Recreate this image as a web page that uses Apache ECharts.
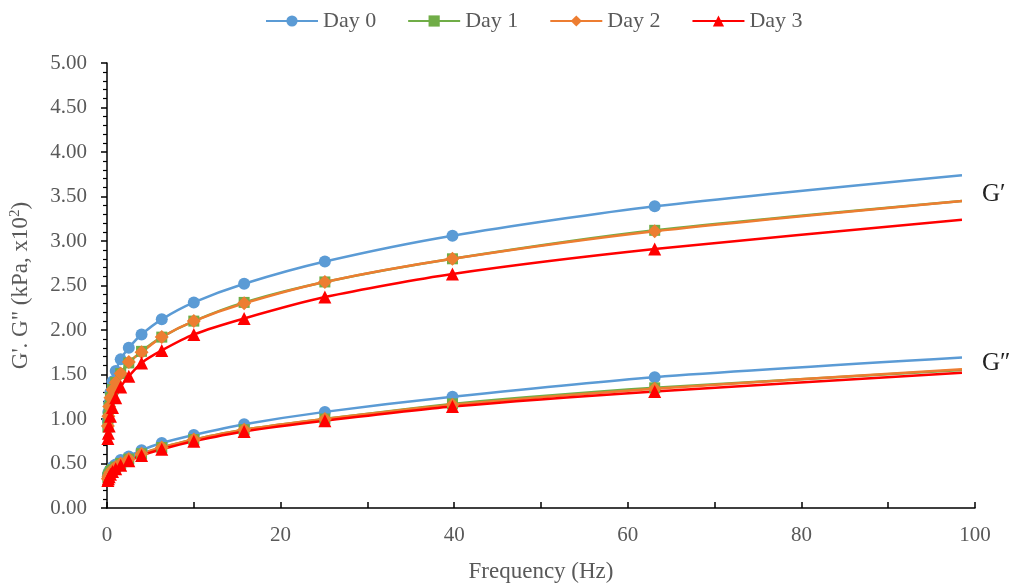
<!DOCTYPE html>
<html>
<head>
<meta charset="utf-8">
<script src="https://cdn.jsdelivr.net/npm/echarts@6/dist/echarts.min.js"></script>
<style>
  html, body { margin: 0; padding: 0; background: #fff; }
  #chart { width: 1014px; height: 588px; }
</style>
</head>
<body>
<div id="chart"></div>
<script>
// frequency (Hz); last entry is the curve end, drawn without a marker
const freq = [0.1, 0.158, 0.251, 0.398, 0.631, 1, 1.58, 2.51, 3.98, 6.31, 10, 15.8, 25.1, 39.8, 63.1, 98.5]

// G' (storage modulus)
const day0G1 = [0.98, 1.08, 1.18, 1.30, 1.42, 1.54, 1.67, 1.80, 1.95, 2.12, 2.31, 2.52, 2.77, 3.06, 3.39, 3.74]
const day1G1 = [0.91, 1.02, 1.13, 1.24, 1.33, 1.41, 1.51, 1.63, 1.76, 1.92, 2.10, 2.31, 2.54, 2.80, 3.12, 3.45]
const day2G1 = [0.92, 1.03, 1.14, 1.24, 1.33, 1.41, 1.51, 1.64, 1.75, 1.92, 2.10, 2.30, 2.54, 2.80, 3.11, 3.45]
const day3G1 = [0.78, 0.84, 0.92, 1.03, 1.13, 1.24, 1.36, 1.48, 1.63, 1.77, 1.95, 2.13, 2.37, 2.63, 2.91, 3.24]

// G'' (loss modulus)
const day0G2 = [0.37, 0.39, 0.41, 0.43, 0.46, 0.49, 0.54, 0.58, 0.65, 0.73, 0.82, 0.94, 1.08, 1.25, 1.47, 1.69]
const day1G2 = [0.34, 0.36, 0.38, 0.41, 0.43, 0.46, 0.50, 0.55, 0.61, 0.68, 0.77, 0.88, 1.00, 1.17, 1.35, 1.55]
const day2G2 = [0.33, 0.35, 0.37, 0.40, 0.43, 0.46, 0.50, 0.55, 0.61, 0.68, 0.77, 0.88, 1.00, 1.16, 1.34, 1.56]
const day3G2 = [0.31, 0.33, 0.35, 0.38, 0.41, 0.44, 0.48, 0.53, 0.59, 0.66, 0.75, 0.86, 0.98, 1.14, 1.31, 1.52]

const days = [
  { name: 'Day 0', color: '#5B9BD5', symbol: 'circle', size: 12, g1: day0G1, g2: day0G2 },
  { name: 'Day 1', color: '#70AD47', symbol: 'rect', size: 11, g1: day1G1, g2: day1G2 },
  { name: 'Day 2', color: '#ED7D31', symbol: 'diamond', size: 14, g1: day2G1, g2: day2G2 },
  { name: 'Day 3', color: '#FF0000', symbol: 'triangle', size: 13, g1: day3G1, g2: day3G2 },
]

const font = 'Liberation Serif'
const textColor = '#595959'

function pairs(ys) {
  return freq.map((f, i) => {
    const item = { value: [f, ys[i]] }
    if (i === freq.length - 1) item.symbol = 'none'
    return item
  })
}

function makeSeries(d, ys) {
  return {
    name: d.name,
    type: 'line',
    data: pairs(ys),
    smooth: 0.25,
    symbol: d.symbol,
    symbolSize: d.size,
    showAllSymbol: true,
    lineStyle: { color: d.color, width: 2.5 },
    itemStyle: { color: d.color },
    emphasis: { disabled: true },
  }
}

const series = []
days.forEach((d) => {
  series.push(makeSeries(d, d.g1))
  series.push(makeSeries(d, d.g2))
})

const chart = echarts.init(document.getElementById('chart'))
chart.setOption({
  animation: false,
  textStyle: { fontFamily: font },
  legend: {
    top: 5,
    left: 260,
    itemWidth: 52,
    itemHeight: 14,
    itemGap: 31,
    textStyle: { fontFamily: font, fontSize: 22, color: textColor },
    data: days.map((d) => d.name),
  },
  grid: { left: 106, right: 39, top: 63, bottom: 79 },
  xAxis: {
    type: 'value',
    min: 0,
    max: 100,
    interval: 10,
    name: 'Frequency (Hz)',
    nameLocation: 'middle',
    nameGap: 52,
    nameTextStyle: { fontFamily: font, fontSize: 23, color: textColor },
    axisLine: { lineStyle: { color: '#000', width: 1.5 } },
    axisTick: { inside: true, length: 6, lineStyle: { color: '#000', width: 1.5 } },
    axisLabel: {
      fontFamily: font, fontSize: 21, color: textColor, margin: 17,
      formatter: (v) => (v % 20 === 0 ? String(v) : ''),
    },
    splitLine: { show: false },
  },
  yAxis: {
    type: 'value',
    min: 0,
    max: 5,
    interval: 0.5,
    name: 'G\'. G" (kPa, x10{sup|2})',
    nameLocation: 'middle',
    nameGap: 74,
    nameTextStyle: {
      fontFamily: font, fontSize: 23, color: textColor,
      rich: { sup: { fontFamily: font, fontSize: 15, color: textColor, verticalAlign: 'top', padding: [0, 0, 10, 0] } },
    },
    axisLine: { show: true, lineStyle: { color: '#000', width: 1.5 } },
    axisTick: { show: true, length: 6, lineStyle: { color: '#000', width: 1.5 } },
    minorTick: { show: true, splitNumber: 5, length: 4, lineStyle: { color: '#000', width: 1.2 } },
    axisLabel: {
      fontFamily: font, fontSize: 21, color: textColor, margin: 20,
      formatter: (v) => v.toFixed(2),
    },
    splitLine: { show: false },
  },
  graphic: [
    { type: 'text', left: 982, top: 182, style: { text: 'G′', fontFamily: font, fontSize: 25, fill: '#222' } },
    { type: 'text', left: 982, top: 351, style: { text: 'G″', fontFamily: font, fontSize: 25, fill: '#222' } },
  ],
  series: series,
})
</script>
</body>
</html>
